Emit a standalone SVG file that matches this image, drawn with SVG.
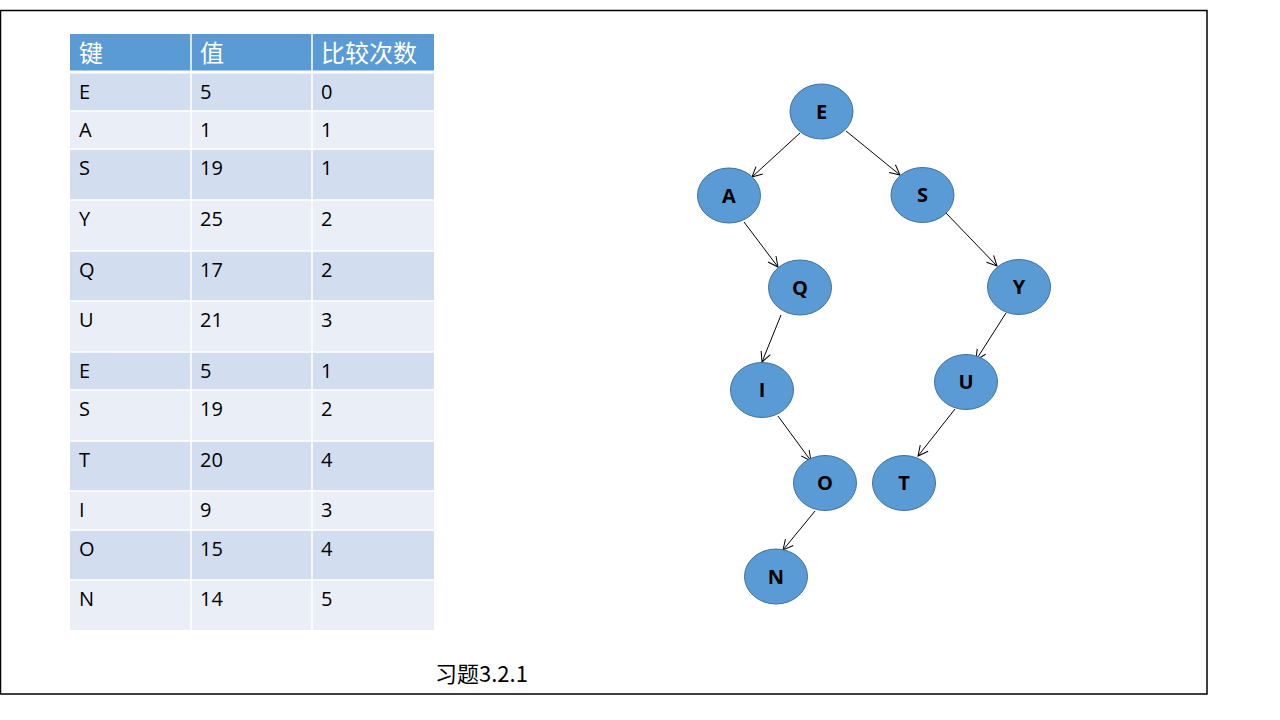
<svg xmlns="http://www.w3.org/2000/svg" width="1280" height="720" viewBox="0 0 1280 720">
<defs>
<style>
.hd{fill:#5B9BD5}
.r1{fill:#D2DEEF}
.r2{fill:#EAEFF7}
.ht{font-family:"Noto Sans CJK SC","Noto Sans",sans-serif;font-size:24px;fill:#fff}
.td{font-family:"Open Sans","Liberation Sans",sans-serif;font-size:20px;fill:#000}
.nd{fill:#5B9BD5;stroke:#41719C;stroke-width:1}
.nt{font-family:"Open Sans","Liberation Sans",sans-serif;font-size:20px;font-weight:bold;fill:#000;text-anchor:middle}
.ed{stroke:#000;stroke-width:1;fill:none;marker-end:url(#ar)}
.cap{font-family:"Noto Sans CJK SC","Noto Sans",sans-serif;font-size:22px;fill:#000}
.grid{stroke:#fff;stroke-width:1.5}
</style>
<marker id="ar" viewBox="0 0 12 12" refX="11" refY="6" markerWidth="12" markerHeight="12" markerUnits="userSpaceOnUse" orient="auto">
<path d="M1,1 L11,6 L1,11" fill="none" stroke="#000" stroke-width="1"/>
</marker>
</defs>
<rect x="0.5" y="10.5" width="1206.5" height="683.5" fill="#fff" stroke="#000" stroke-width="1.5"/>
<g id="table">
<rect class="hd" x="70" y="34" width="364" height="37"/>
<rect class="r1" x="70" y="73" width="364" height="38"/>
<rect class="r2" x="70" y="111" width="364" height="38"/>
<rect class="r1" x="70" y="149" width="364" height="51"/>
<rect class="r2" x="70" y="200" width="364" height="51"/>
<rect class="r1" x="70" y="251" width="364" height="50"/>
<rect class="r2" x="70" y="301" width="364" height="51"/>
<rect class="r1" x="70" y="352" width="364" height="38"/>
<rect class="r2" x="70" y="390" width="364" height="51"/>
<rect class="r1" x="70" y="441" width="364" height="50"/>
<rect class="r2" x="70" y="491" width="364" height="39"/>
<rect class="r1" x="70" y="530" width="364" height="50"/>
<rect class="r2" x="70" y="580" width="364" height="50"/>
<g class="grid">
<line x1="70" y1="72" x2="434" y2="72" stroke-width="3"/>
<line x1="70" y1="111" x2="434" y2="111"/>
<line x1="70" y1="149" x2="434" y2="149"/>
<line x1="70" y1="200" x2="434" y2="200"/>
<line x1="70" y1="251" x2="434" y2="251"/>
<line x1="70" y1="301" x2="434" y2="301"/>
<line x1="70" y1="352" x2="434" y2="352"/>
<line x1="70" y1="390" x2="434" y2="390"/>
<line x1="70" y1="441" x2="434" y2="441"/>
<line x1="70" y1="491" x2="434" y2="491"/>
<line x1="70" y1="530" x2="434" y2="530"/>
<line x1="70" y1="580" x2="434" y2="580"/>
<line x1="191" y1="34" x2="191" y2="630"/>
<line x1="312" y1="34" x2="312" y2="630"/>
</g>
<text class="ht" x="79" y="62">键</text>
<text class="ht" x="200" y="62">值</text>
<text class="ht" x="321" y="62">比较次数</text>
<g class="td">
<text x="79" y="99">E</text><text x="200" y="99">5</text><text x="321" y="99">0</text>
<text x="79" y="137">A</text><text x="200" y="137">1</text><text x="321" y="137">1</text>
<text x="79" y="175">S</text><text x="200" y="175">19</text><text x="321" y="175">1</text>
<text x="79" y="226">Y</text><text x="200" y="226">25</text><text x="321" y="226">2</text>
<text x="79" y="277">Q</text><text x="200" y="277">17</text><text x="321" y="277">2</text>
<text x="79" y="327">U</text><text x="200" y="327">21</text><text x="321" y="327">3</text>
<text x="79" y="378">E</text><text x="200" y="378">5</text><text x="321" y="378">1</text>
<text x="79" y="416">S</text><text x="200" y="416">19</text><text x="321" y="416">2</text>
<text x="79" y="467">T</text><text x="200" y="467">20</text><text x="321" y="467">4</text>
<text x="79" y="517">I</text><text x="200" y="517">9</text><text x="321" y="517">3</text>
<text x="79" y="556">O</text><text x="200" y="556">15</text><text x="321" y="556">4</text>
<text x="79" y="606">N</text><text x="200" y="606">14</text><text x="321" y="606">5</text>
</g>
</g>
<g id="edges">
<line class="ed" x1="800" y1="133" x2="752" y2="177"/>
<line class="ed" x1="846" y1="131" x2="900" y2="175"/>
<line class="ed" x1="744" y1="222" x2="778" y2="267"/>
<line class="ed" x1="946" y1="213" x2="997" y2="266"/>
<line class="ed" x1="781" y1="315" x2="762" y2="362"/>
<line class="ed" x1="1006" y1="313" x2="976" y2="360"/>
<line class="ed" x1="778" y1="416" x2="811" y2="461"/>
<line class="ed" x1="955" y1="409" x2="918" y2="456"/>
<line class="ed" x1="815" y1="511" x2="783" y2="550"/>
</g>
<g id="node-E"><ellipse class="nd" cx="821.5" cy="111.5" rx="31.5" ry="27.5"/><text class="nt" x="821.5" y="118.5">E</text></g>
<g id="node-A"><ellipse class="nd" cx="729" cy="195.5" rx="31.5" ry="27.5"/><text class="nt" x="729" y="202.5">A</text></g>
<g id="node-S"><ellipse class="nd" cx="922.5" cy="195" rx="31.5" ry="27.5"/><text class="nt" x="922.5" y="202">S</text></g>
<g id="node-Q"><ellipse class="nd" cx="800" cy="287.5" rx="31.5" ry="27.5"/><text class="nt" x="800" y="294.5">Q</text></g>
<g id="node-Y"><ellipse class="nd" cx="1019" cy="287" rx="31.5" ry="27.5"/><text class="nt" x="1019" y="294">Y</text></g>
<g id="node-I"><ellipse class="nd" cx="762" cy="390" rx="31.5" ry="27.5"/><text class="nt" x="762" y="397">I</text></g>
<g id="node-U"><ellipse class="nd" cx="966" cy="382" rx="31.5" ry="27.5"/><text class="nt" x="966" y="389">U</text></g>
<g id="node-O"><ellipse class="nd" cx="825" cy="483" rx="31.5" ry="27.5"/><text class="nt" x="825" y="490">O</text></g>
<g id="node-T"><ellipse class="nd" cx="904" cy="483" rx="31.5" ry="27.5"/><text class="nt" x="904" y="490">T</text></g>
<g id="node-N"><ellipse class="nd" cx="776" cy="576.5" rx="31.5" ry="27.5"/><text class="nt" x="776" y="583.5">N</text></g>
<text class="cap" x="435" y="682">习题3.2.1</text>
</svg>
